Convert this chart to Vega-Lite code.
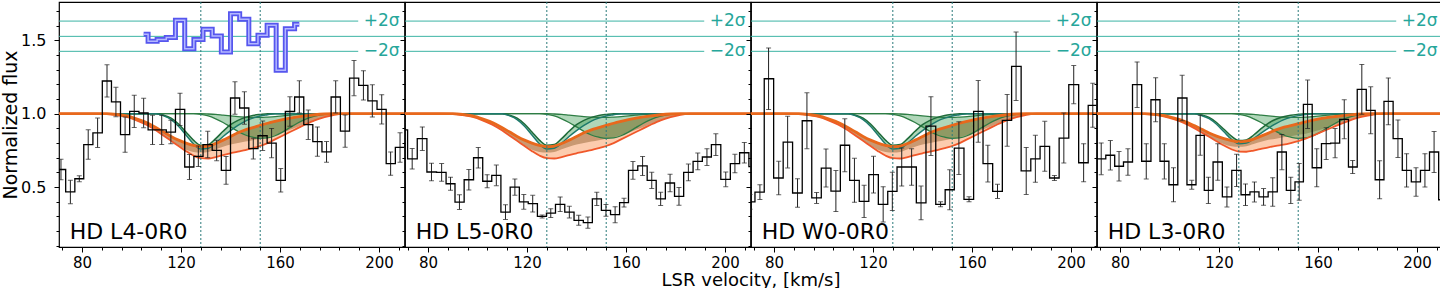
{
"$schema": "https://vega.github.io/schema/vega-lite/v6.json",
"padding": 0,
"background": "white",
"spacing": 0,
"bounds": "flush",
"config": {
  "view": {"stroke": "black", "strokeWidth": 1.2},
  "font": "DejaVu Sans",
  "axis": {"labelFont": "DejaVu Sans", "titleFont": "DejaVu Sans", "labelColor": "black", "titleColor": "black", "tickColor": "black", "domain": false, "grid": false, "titleFontWeight": "normal", "labelFontSize": 15, "titleFontSize": 18, "labelOverlap": false, "labelFlush": false}
},
"datasets": {
  "sig": [{"y": 1.631, "xa": 60, "xb": 191.6}, {"y": 1.527, "xa": 60, "xb": 215}, {"y": 1.425, "xa": 60, "xb": 191.6}],
  "sigt": [{"v": 193.8, "y": 1.631, "t": "+2σ"}, {"v": 193.8, "y": 1.425, "t": "−2σ"}],
  "vl": [{"v": 128}, {"v": 152}],
  "res": [
    {"v": 104.9, "r": 1.541}, {"v": 108.5, "r": 1.493}, {"v": 112.2, "r": 1.505}, {"v": 115.9, "r": 1.52},
    {"v": 119.6, "r": 1.636}, {"v": 123.4, "r": 1.443}, {"v": 127.0, "r": 1.506}, {"v": 130.8, "r": 1.575},
    {"v": 134.4, "r": 1.529}, {"v": 138.2, "r": 1.42}, {"v": 141.8, "r": 1.681}, {"v": 145.6, "r": 1.643},
    {"v": 149.2, "r": 1.477}, {"v": 153.0, "r": 1.534}, {"v": 156.6, "r": 1.602}, {"v": 160.3, "r": 1.296},
    {"v": 164.0, "r": 1.579}, {"v": 167.8, "r": 1.609}
  ],
  "mod": [
    {"m": "A", "v": 60, "th": 1, "tm": 1, "tl": 1, "c1h": 1, "c1l": 1, "c2h": 1, "c2l": 1},
    {"m": "A", "v": 85, "th": 1, "tm": 1, "tl": 1, "c1h": 1, "c1l": 1, "c2h": 1, "c2l": 1},
    {"m": "A", "v": 90, "th": 1, "tm": 0.998, "tl": 0.998, "c1h": 1, "c1l": 1, "c2h": 1, "c2l": 1},
    {"m": "A", "v": 94, "th": 0.995, "tm": 0.99, "tl": 0.99, "c1h": 1, "c1l": 1, "c2h": 1, "c2l": 1},
    {"m": "A", "v": 98, "th": 0.985, "tm": 0.978, "tl": 0.978, "c1h": 1, "c1l": 1, "c2h": 1, "c2l": 1},
    {"m": "A", "v": 102, "th": 0.965, "tm": 0.955, "tl": 0.955, "c1h": 1, "c1l": 1, "c2h": 1, "c2l": 1},
    {"m": "A", "v": 106, "th": 0.94, "tm": 0.925, "tl": 0.925, "c1h": 1, "c1l": 1, "c2h": 1, "c2l": 1},
    {"m": "A", "v": 110, "th": 0.905, "tm": 0.885, "tl": 0.885, "c1h": 1, "c1l": 1, "c2h": 1, "c2l": 1},
    {"m": "A", "v": 113, "th": 0.875, "tm": 0.852, "tl": 0.85, "c1h": 0.99, "c1l": 0.985, "c2h": 1, "c2l": 1},
    {"m": "A", "v": 116, "th": 0.845, "tm": 0.818, "tl": 0.815, "c1h": 0.97, "c1l": 0.96, "c2h": 1, "c2l": 1},
    {"m": "A", "v": 119, "th": 0.82, "tm": 0.785, "tl": 0.78, "c1h": 0.93, "c1l": 0.915, "c2h": 1, "c2l": 1},
    {"m": "A", "v": 122, "th": 0.8, "tm": 0.755, "tl": 0.745, "c1h": 0.875, "c1l": 0.855, "c2h": 1, "c2l": 1},
    {"m": "A", "v": 125, "th": 0.785, "tm": 0.74, "tl": 0.715, "c1h": 0.82, "c1l": 0.795, "c2h": 1, "c2l": 1},
    {"m": "A", "v": 128, "th": 0.775, "tm": 0.735, "tl": 0.697, "c1h": 0.785, "c1l": 0.76, "c2h": 1, "c2l": 0.995},
    {"m": "A", "v": 131, "th": 0.78, "tm": 0.74, "tl": 0.695, "c1h": 0.79, "c1l": 0.765, "c2h": 0.998, "c2l": 0.985},
    {"m": "A", "v": 134, "th": 0.797, "tm": 0.758, "tl": 0.705, "c1h": 0.83, "c1l": 0.8, "c2h": 0.995, "c2l": 0.965},
    {"m": "A", "v": 137, "th": 0.82, "tm": 0.775, "tl": 0.718, "c1h": 0.88, "c1l": 0.845, "c2h": 0.99, "c2l": 0.94},
    {"m": "A", "v": 140, "th": 0.845, "tm": 0.79, "tl": 0.73, "c1h": 0.925, "c1l": 0.885, "c2h": 0.985, "c2l": 0.91},
    {"m": "A", "v": 143, "th": 0.87, "tm": 0.8, "tl": 0.742, "c1h": 0.955, "c1l": 0.92, "c2h": 0.98, "c2l": 0.88},
    {"m": "A", "v": 146, "th": 0.89, "tm": 0.81, "tl": 0.752, "c1h": 0.975, "c1l": 0.95, "c2h": 0.977, "c2l": 0.855},
    {"m": "A", "v": 149, "th": 0.905, "tm": 0.82, "tl": 0.765, "c1h": 0.988, "c1l": 0.97, "c2h": 0.975, "c2l": 0.84},
    {"m": "A", "v": 152, "th": 0.92, "tm": 0.83, "tl": 0.78, "c1h": 0.995, "c1l": 0.985, "c2h": 0.975, "c2l": 0.832},
    {"m": "A", "v": 155, "th": 0.935, "tm": 0.84, "tl": 0.8, "c1h": 1, "c1l": 0.993, "c2h": 0.977, "c2l": 0.835},
    {"m": "A", "v": 158, "th": 0.948, "tm": 0.855, "tl": 0.825, "c1h": 1, "c1l": 1, "c2h": 0.98, "c2l": 0.85},
    {"m": "A", "v": 161, "th": 0.96, "tm": 0.87, "tl": 0.85, "c1h": 1, "c1l": 1, "c2h": 0.985, "c2l": 0.875},
    {"m": "A", "v": 164, "th": 0.97, "tm": 0.89, "tl": 0.875, "c1h": 1, "c1l": 1, "c2h": 0.99, "c2l": 0.905},
    {"m": "A", "v": 167, "th": 0.978, "tm": 0.91, "tl": 0.9, "c1h": 1, "c1l": 1, "c2h": 0.995, "c2l": 0.935},
    {"m": "A", "v": 170, "th": 0.985, "tm": 0.93, "tl": 0.925, "c1h": 1, "c1l": 1, "c2h": 0.998, "c2l": 0.96},
    {"m": "A", "v": 174, "th": 0.993, "tm": 0.955, "tl": 0.955, "c1h": 1, "c1l": 1, "c2h": 1, "c2l": 0.983},
    {"m": "A", "v": 178, "th": 0.998, "tm": 0.978, "tl": 0.976, "c1h": 1, "c1l": 1, "c2h": 1, "c2l": 0.996},
    {"m": "A", "v": 182, "th": 1, "tm": 0.993, "tl": 0.992, "c1h": 1, "c1l": 1, "c2h": 1, "c2l": 1},
    {"m": "A", "v": 186, "th": 1, "tm": 1, "tl": 1, "c1h": 1, "c1l": 1, "c2h": 1, "c2l": 1},
    {"m": "A", "v": 215, "th": 1, "tm": 1, "tl": 1, "c1h": 1, "c1l": 1, "c2h": 1, "c2l": 1},
    {"m": "B", "v": 60, "th": 1, "tm": 1, "tl": 1, "c1h": 1, "c1l": 1, "c2h": 1, "c2l": 1},
    {"m": "B", "v": 85, "th": 1, "tm": 1, "tl": 1, "c1h": 1, "c1l": 1, "c2h": 1, "c2l": 1},
    {"m": "B", "v": 90, "th": 1, "tm": 0.998, "tl": 0.998, "c1h": 1, "c1l": 1, "c2h": 1, "c2l": 1},
    {"m": "B", "v": 94, "th": 0.996, "tm": 0.992, "tl": 0.992, "c1h": 1, "c1l": 1, "c2h": 1, "c2l": 1},
    {"m": "B", "v": 98, "th": 0.987, "tm": 0.981, "tl": 0.981, "c1h": 1, "c1l": 1, "c2h": 1, "c2l": 1},
    {"m": "B", "v": 102, "th": 0.97, "tm": 0.962, "tl": 0.962, "c1h": 1, "c1l": 1, "c2h": 1, "c2l": 1},
    {"m": "B", "v": 106, "th": 0.949, "tm": 0.936, "tl": 0.936, "c1h": 1, "c1l": 1, "c2h": 1, "c2l": 1},
    {"m": "B", "v": 110, "th": 0.919, "tm": 0.902, "tl": 0.902, "c1h": 1, "c1l": 1, "c2h": 1, "c2l": 1},
    {"m": "B", "v": 113, "th": 0.894, "tm": 0.874, "tl": 0.872, "c1h": 0.992, "c1l": 0.987, "c2h": 1, "c2l": 1},
    {"m": "B", "v": 116, "th": 0.868, "tm": 0.845, "tl": 0.843, "c1h": 0.975, "c1l": 0.966, "c2h": 1, "c2l": 1},
    {"m": "B", "v": 119, "th": 0.847, "tm": 0.817, "tl": 0.813, "c1h": 0.94, "c1l": 0.928, "c2h": 1, "c2l": 1},
    {"m": "B", "v": 122, "th": 0.83, "tm": 0.792, "tl": 0.783, "c1h": 0.894, "c1l": 0.877, "c2h": 1, "c2l": 1},
    {"m": "B", "v": 125, "th": 0.817, "tm": 0.779, "tl": 0.758, "c1h": 0.847, "c1l": 0.826, "c2h": 1, "c2l": 1},
    {"m": "B", "v": 128, "th": 0.809, "tm": 0.775, "tl": 0.742, "c1h": 0.817, "c1l": 0.796, "c2h": 1, "c2l": 0.995},
    {"m": "B", "v": 131, "th": 0.813, "tm": 0.779, "tl": 0.741, "c1h": 0.821, "c1l": 0.8, "c2h": 0.998, "c2l": 0.985},
    {"m": "B", "v": 134, "th": 0.827, "tm": 0.794, "tl": 0.749, "c1h": 0.855, "c1l": 0.83, "c2h": 0.995, "c2l": 0.965},
    {"m": "B", "v": 137, "th": 0.847, "tm": 0.809, "tl": 0.76, "c1h": 0.898, "c1l": 0.868, "c2h": 0.99, "c2l": 0.94},
    {"m": "B", "v": 140, "th": 0.868, "tm": 0.822, "tl": 0.771, "c1h": 0.936, "c1l": 0.902, "c2h": 0.985, "c2l": 0.91},
    {"m": "B", "v": 143, "th": 0.89, "tm": 0.83, "tl": 0.781, "c1h": 0.962, "c1l": 0.932, "c2h": 0.98, "c2l": 0.88},
    {"m": "B", "v": 146, "th": 0.907, "tm": 0.839, "tl": 0.789, "c1h": 0.979, "c1l": 0.958, "c2h": 0.977, "c2l": 0.855},
    {"m": "B", "v": 149, "th": 0.919, "tm": 0.847, "tl": 0.8, "c1h": 0.99, "c1l": 0.975, "c2h": 0.975, "c2l": 0.84},
    {"m": "B", "v": 152, "th": 0.932, "tm": 0.856, "tl": 0.813, "c1h": 0.996, "c1l": 0.987, "c2h": 0.975, "c2l": 0.832},
    {"m": "B", "v": 155, "th": 0.945, "tm": 0.864, "tl": 0.83, "c1h": 1, "c1l": 0.994, "c2h": 0.977, "c2l": 0.835},
    {"m": "B", "v": 158, "th": 0.956, "tm": 0.877, "tl": 0.851, "c1h": 1, "c1l": 1, "c2h": 0.98, "c2l": 0.85},
    {"m": "B", "v": 161, "th": 0.966, "tm": 0.89, "tl": 0.873, "c1h": 1, "c1l": 1, "c2h": 0.985, "c2l": 0.875},
    {"m": "B", "v": 164, "th": 0.975, "tm": 0.907, "tl": 0.894, "c1h": 1, "c1l": 1, "c2h": 0.99, "c2l": 0.905},
    {"m": "B", "v": 167, "th": 0.981, "tm": 0.924, "tl": 0.915, "c1h": 1, "c1l": 1, "c2h": 0.995, "c2l": 0.935},
    {"m": "B", "v": 170, "th": 0.987, "tm": 0.941, "tl": 0.936, "c1h": 1, "c1l": 1, "c2h": 0.998, "c2l": 0.96},
    {"m": "B", "v": 174, "th": 0.994, "tm": 0.962, "tl": 0.962, "c1h": 1, "c1l": 1, "c2h": 1, "c2l": 0.983},
    {"m": "B", "v": 178, "th": 0.998, "tm": 0.981, "tl": 0.98, "c1h": 1, "c1l": 1, "c2h": 1, "c2l": 0.996},
    {"m": "B", "v": 182, "th": 1, "tm": 0.994, "tl": 0.993, "c1h": 1, "c1l": 1, "c2h": 1, "c2l": 1},
    {"m": "B", "v": 186, "th": 1, "tm": 1, "tl": 1, "c1h": 1, "c1l": 1, "c2h": 1, "c2l": 1},
    {"m": "B", "v": 215, "th": 1, "tm": 1, "tl": 1, "c1h": 1, "c1l": 1, "c2h": 1, "c2l": 1}
  ],
  "obs": [
    {"p": 1, "v": 67.8, "f": 0.6, "lo": 0.53, "hi": 0.67},
    {"p": 1, "v": 71.5, "f": 0.62, "lo": 0.55, "hi": 0.69},
    {"p": 1, "v": 75.3, "f": 0.467, "lo": 0.387, "hi": 0.547},
    {"p": 1, "v": 78.9, "f": 0.557, "lo": 0.537, "hi": 0.577},
    {"p": 1, "v": 82.5, "f": 0.79, "lo": 0.69, "hi": 0.89},
    {"p": 1, "v": 86.3, "f": 0.87, "lo": 0.77, "hi": 0.97},
    {"p": 1, "v": 90.1, "f": 1.223, "lo": 1.113, "hi": 1.333},
    {"p": 1, "v": 93.7, "f": 1.08, "lo": 0.98, "hi": 1.18},
    {"p": 1, "v": 97.4, "f": 0.857, "lo": 0.737, "hi": 0.977},
    {"p": 1, "v": 101.1, "f": 1.016, "lo": 0.906, "hi": 1.126},
    {"p": 1, "v": 104.9, "f": 1.005, "lo": 0.905, "hi": 1.105},
    {"p": 1, "v": 108.5, "f": 0.89, "lo": 0.79, "hi": 0.99},
    {"p": 1, "v": 112.2, "f": 0.89, "lo": 0.79, "hi": 0.99},
    {"p": 1, "v": 115.9, "f": 0.875, "lo": 0.795, "hi": 0.955},
    {"p": 1, "v": 119.6, "f": 1.03, "lo": 0.92, "hi": 1.14},
    {"p": 1, "v": 123.4, "f": 0.637, "lo": 0.552, "hi": 0.722},
    {"p": 1, "v": 127.0, "f": 0.71, "lo": 0.64, "hi": 0.78},
    {"p": 1, "v": 130.8, "f": 0.79, "lo": 0.7, "hi": 0.88},
    {"p": 1, "v": 134.4, "f": 0.75, "lo": 0.68, "hi": 0.82},
    {"p": 1, "v": 138.2, "f": 0.614, "lo": 0.519, "hi": 0.709},
    {"p": 1, "v": 141.8, "f": 1.107, "lo": 0.997, "hi": 1.217},
    {"p": 1, "v": 145.6, "f": 1.039, "lo": 0.929, "hi": 1.149},
    {"p": 1, "v": 149.2, "f": 0.762, "lo": 0.692, "hi": 0.832},
    {"p": 1, "v": 153.0, "f": 0.85, "lo": 0.75, "hi": 0.95},
    {"p": 1, "v": 156.6, "f": 0.8, "lo": 0.7, "hi": 0.9},
    {"p": 1, "v": 160.3, "f": 0.546, "lo": 0.466, "hi": 0.626},
    {"p": 1, "v": 164.0, "f": 1.015, "lo": 0.915, "hi": 1.115},
    {"p": 1, "v": 167.8, "f": 1.114, "lo": 1.004, "hi": 1.224},
    {"p": 1, "v": 171.4, "f": 0.925, "lo": 0.825, "hi": 1.025},
    {"p": 1, "v": 175.1, "f": 0.81, "lo": 0.71, "hi": 0.91},
    {"p": 1, "v": 178.8, "f": 0.74, "lo": 0.67, "hi": 0.81},
    {"p": 1, "v": 182.5, "f": 1.114, "lo": 1.004, "hi": 1.224},
    {"p": 1, "v": 186.3, "f": 0.882, "lo": 0.772, "hi": 0.992},
    {"p": 1, "v": 189.9, "f": 1.243, "lo": 1.123, "hi": 1.363},
    {"p": 1, "v": 193.7, "f": 1.193, "lo": 1.093, "hi": 1.293},
    {"p": 1, "v": 197.3, "f": 1.087, "lo": 0.977, "hi": 1.197},
    {"p": 1, "v": 201.1, "f": 1.03, "lo": 0.93, "hi": 1.13},
    {"p": 1, "v": 204.7, "f": 0.66, "lo": 0.58, "hi": 0.74},
    {"p": 1, "v": 208.5, "f": 0.77, "lo": 0.67, "hi": 0.87},
    {"p": 1, "v": 212.2, "f": 0.8, "lo": 0.7, "hi": 0.9},
    {"p": 2, "v": 69.9, "f": 0.89, "lo": 0.84, "hi": 0.94},
    {"p": 2, "v": 73.6, "f": 0.693, "lo": 0.623, "hi": 0.763},
    {"p": 2, "v": 77.7, "f": 0.83, "lo": 0.75, "hi": 0.91},
    {"p": 2, "v": 81.4, "f": 0.603, "lo": 0.543, "hi": 0.663},
    {"p": 2, "v": 85.5, "f": 0.6, "lo": 0.54, "hi": 0.66},
    {"p": 2, "v": 89.1, "f": 0.523, "lo": 0.478, "hi": 0.568},
    {"p": 2, "v": 92.7, "f": 0.398, "lo": 0.348, "hi": 0.448},
    {"p": 2, "v": 96.5, "f": 0.55, "lo": 0.48, "hi": 0.62},
    {"p": 2, "v": 100.3, "f": 0.7, "lo": 0.63, "hi": 0.77},
    {"p": 2, "v": 103.9, "f": 0.54, "lo": 0.495, "hi": 0.585},
    {"p": 2, "v": 107.6, "f": 0.58, "lo": 0.51, "hi": 0.65},
    {"p": 2, "v": 111.3, "f": 0.33, "lo": 0.28, "hi": 0.38},
    {"p": 2, "v": 115.1, "f": 0.5, "lo": 0.445, "hi": 0.555},
    {"p": 2, "v": 118.7, "f": 0.4, "lo": 0.35, "hi": 0.45},
    {"p": 2, "v": 122.3, "f": 0.387, "lo": 0.33, "hi": 0.444},
    {"p": 2, "v": 126.1, "f": 0.3, "lo": 0.29, "hi": 0.31},
    {"p": 2, "v": 129.6, "f": 0.323, "lo": 0.293, "hi": 0.353},
    {"p": 2, "v": 133.4, "f": 0.383, "lo": 0.333, "hi": 0.433},
    {"p": 2, "v": 137.1, "f": 0.33, "lo": 0.29, "hi": 0.37},
    {"p": 2, "v": 140.9, "f": 0.274, "lo": 0.24, "hi": 0.308},
    {"p": 2, "v": 144.6, "f": 0.258, "lo": 0.22, "hi": 0.296},
    {"p": 2, "v": 148.2, "f": 0.42, "lo": 0.375, "hi": 0.465},
    {"p": 2, "v": 151.9, "f": 0.342, "lo": 0.302, "hi": 0.382},
    {"p": 2, "v": 155.6, "f": 0.312, "lo": 0.257, "hi": 0.367},
    {"p": 2, "v": 159.2, "f": 0.394, "lo": 0.364, "hi": 0.424},
    {"p": 2, "v": 162.8, "f": 0.614, "lo": 0.554, "hi": 0.674},
    {"p": 2, "v": 166.7, "f": 0.644, "lo": 0.579, "hi": 0.709},
    {"p": 2, "v": 170.4, "f": 0.546, "lo": 0.491, "hi": 0.601},
    {"p": 2, "v": 174.0, "f": 0.42, "lo": 0.375, "hi": 0.465},
    {"p": 2, "v": 177.8, "f": 0.528, "lo": 0.468, "hi": 0.588},
    {"p": 2, "v": 181.4, "f": 0.437, "lo": 0.377, "hi": 0.497},
    {"p": 2, "v": 185.2, "f": 0.6, "lo": 0.543, "hi": 0.657},
    {"p": 2, "v": 189.0, "f": 0.675, "lo": 0.618, "hi": 0.732},
    {"p": 2, "v": 192.7, "f": 0.705, "lo": 0.648, "hi": 0.762},
    {"p": 2, "v": 196.3, "f": 0.789, "lo": 0.715, "hi": 0.863},
    {"p": 2, "v": 200.3, "f": 0.553, "lo": 0.503, "hi": 0.603},
    {"p": 2, "v": 204.0, "f": 0.66, "lo": 0.597, "hi": 0.723},
    {"p": 2, "v": 207.8, "f": 0.734, "lo": 0.664, "hi": 0.804},
    {"p": 2, "v": 211.5, "f": 0.64, "lo": 0.58, "hi": 0.7},
    {"p": 3, "v": 66.5, "f": 0.4, "lo": 0.35, "hi": 0.45},
    {"p": 3, "v": 70.3, "f": 0.4, "lo": 0.35, "hi": 0.45},
    {"p": 3, "v": 74.3, "f": 0.466, "lo": 0.416, "hi": 0.516},
    {"p": 3, "v": 77.8, "f": 1.238, "lo": 1.028, "hi": 1.448},
    {"p": 3, "v": 81.9, "f": 0.562, "lo": 0.448, "hi": 0.676},
    {"p": 3, "v": 85.5, "f": 0.807, "lo": 0.631, "hi": 0.983},
    {"p": 3, "v": 89.5, "f": 0.46, "lo": 0.363, "hi": 0.557},
    {"p": 3, "v": 93.3, "f": 0.952, "lo": 0.762, "hi": 1.142},
    {"p": 3, "v": 97.2, "f": 0.426, "lo": 0.389, "hi": 0.463},
    {"p": 3, "v": 101.0, "f": 0.63, "lo": 0.5, "hi": 0.76},
    {"p": 3, "v": 105.0, "f": 0.473, "lo": 0.333, "hi": 0.613},
    {"p": 3, "v": 108.6, "f": 0.785, "lo": 0.605, "hi": 0.965},
    {"p": 3, "v": 112.5, "f": 0.546, "lo": 0.396, "hi": 0.696},
    {"p": 3, "v": 116.4, "f": 0.403, "lo": 0.293, "hi": 0.513},
    {"p": 3, "v": 120.2, "f": 0.585, "lo": 0.46, "hi": 0.71},
    {"p": 3, "v": 124.1, "f": 0.383, "lo": 0.263, "hi": 0.503},
    {"p": 3, "v": 127.8, "f": 0.471, "lo": 0.341, "hi": 0.601},
    {"p": 3, "v": 131.6, "f": 0.637, "lo": 0.507, "hi": 0.767},
    {"p": 3, "v": 135.6, "f": 0.637, "lo": 0.512, "hi": 0.762},
    {"p": 3, "v": 139.4, "f": 0.392, "lo": 0.277, "hi": 0.507},
    {"p": 3, "v": 143.4, "f": 0.916, "lo": 0.716, "hi": 1.116},
    {"p": 3, "v": 147.3, "f": 0.383, "lo": 0.366, "hi": 0.4},
    {"p": 3, "v": 151.0, "f": 0.482, "lo": 0.346, "hi": 0.618},
    {"p": 3, "v": 154.7, "f": 0.766, "lo": 0.586, "hi": 0.946},
    {"p": 3, "v": 158.8, "f": 0.417, "lo": 0.4, "hi": 0.434},
    {"p": 3, "v": 162.5, "f": 1.016, "lo": 0.806, "hi": 1.226},
    {"p": 3, "v": 166.4, "f": 0.66, "lo": 0.535, "hi": 0.785},
    {"p": 3, "v": 170.3, "f": 0.471, "lo": 0.423, "hi": 0.519},
    {"p": 3, "v": 174.2, "f": 0.955, "lo": 0.779, "hi": 1.131},
    {"p": 3, "v": 177.8, "f": 1.323, "lo": 1.09, "hi": 1.556},
    {"p": 3, "v": 181.9, "f": 0.61, "lo": 0.45, "hi": 0.77},
    {"p": 3, "v": 185.6, "f": 0.693, "lo": 0.533, "hi": 0.853},
    {"p": 3, "v": 189.4, "f": 0.778, "lo": 0.608, "hi": 0.948},
    {"p": 3, "v": 193.3, "f": 0.562, "lo": 0.545, "hi": 0.579},
    {"p": 3, "v": 197.1, "f": 0.834, "lo": 0.664, "hi": 1.004},
    {"p": 3, "v": 201.1, "f": 1.198, "lo": 1.068, "hi": 1.328},
    {"p": 3, "v": 205.1, "f": 0.666, "lo": 0.536, "hi": 0.796},
    {"p": 3, "v": 208.8, "f": 1.057, "lo": 0.907, "hi": 1.207},
    {"p": 3, "v": 212.6, "f": 0.9, "lo": 0.75, "hi": 1.05},
    {"p": 4, "v": 68.7, "f": 0.7, "lo": 0.6, "hi": 0.8},
    {"p": 4, "v": 72.4, "f": 0.693, "lo": 0.585, "hi": 0.801},
    {"p": 4, "v": 76.1, "f": 0.717, "lo": 0.617, "hi": 0.817},
    {"p": 4, "v": 79.6, "f": 0.642, "lo": 0.542, "hi": 0.742},
    {"p": 4, "v": 83.2, "f": 0.671, "lo": 0.581, "hi": 0.761},
    {"p": 4, "v": 86.9, "f": 1.198, "lo": 1.043, "hi": 1.353},
    {"p": 4, "v": 90.6, "f": 0.676, "lo": 0.556, "hi": 0.796},
    {"p": 4, "v": 94.4, "f": 1.095, "lo": 0.945, "hi": 1.245},
    {"p": 4, "v": 97.9, "f": 0.676, "lo": 0.556, "hi": 0.796},
    {"p": 4, "v": 101.6, "f": 0.516, "lo": 0.4, "hi": 0.632},
    {"p": 4, "v": 105.1, "f": 1.107, "lo": 0.952, "hi": 1.262},
    {"p": 4, "v": 109.0, "f": 0.516, "lo": 0.486, "hi": 0.546},
    {"p": 4, "v": 112.4, "f": 0.853, "lo": 0.717, "hi": 0.989},
    {"p": 4, "v": 115.7, "f": 0.478, "lo": 0.388, "hi": 0.568},
    {"p": 4, "v": 119.5, "f": 0.671, "lo": 0.546, "hi": 0.796},
    {"p": 4, "v": 123.2, "f": 0.433, "lo": 0.365, "hi": 0.501},
    {"p": 4, "v": 127.1, "f": 0.614, "lo": 0.504, "hi": 0.724},
    {"p": 4, "v": 130.7, "f": 0.448, "lo": 0.374, "hi": 0.522},
    {"p": 4, "v": 134.3, "f": 0.467, "lo": 0.399, "hi": 0.535},
    {"p": 4, "v": 138.0, "f": 0.433, "lo": 0.376, "hi": 0.49},
    {"p": 4, "v": 141.7, "f": 0.467, "lo": 0.37, "hi": 0.564},
    {"p": 4, "v": 145.4, "f": 0.739, "lo": 0.619, "hi": 0.859},
    {"p": 4, "v": 149.0, "f": 0.478, "lo": 0.388, "hi": 0.568},
    {"p": 4, "v": 152.4, "f": 0.535, "lo": 0.41, "hi": 0.66},
    {"p": 4, "v": 155.8, "f": 1.064, "lo": 0.899, "hi": 1.229},
    {"p": 4, "v": 159.5, "f": 0.632, "lo": 0.502, "hi": 0.762},
    {"p": 4, "v": 163.3, "f": 0.796, "lo": 0.688, "hi": 0.904},
    {"p": 4, "v": 166.9, "f": 0.8, "lo": 0.7, "hi": 0.9},
    {"p": 4, "v": 170.6, "f": 0.962, "lo": 0.829, "hi": 1.095},
    {"p": 4, "v": 174.0, "f": 0.637, "lo": 0.592, "hi": 0.682},
    {"p": 4, "v": 177.7, "f": 1.166, "lo": 0.996, "hi": 1.336},
    {"p": 4, "v": 181.3, "f": 1.023, "lo": 0.863, "hi": 1.183},
    {"p": 4, "v": 184.9, "f": 0.55, "lo": 0.42, "hi": 0.68},
    {"p": 4, "v": 188.4, "f": 1.084, "lo": 0.924, "hi": 1.244},
    {"p": 4, "v": 192.3, "f": 0.83, "lo": 0.702, "hi": 0.958},
    {"p": 4, "v": 195.8, "f": 0.614, "lo": 0.5, "hi": 0.728},
    {"p": 4, "v": 199.6, "f": 0.535, "lo": 0.438, "hi": 0.632},
    {"p": 4, "v": 203.2, "f": 0.614, "lo": 0.5, "hi": 0.728},
    {"p": 4, "v": 206.9, "f": 0.739, "lo": 0.599, "hi": 0.879},
    {"p": 4, "v": 210.6, "f": 0.414, "lo": 0.314, "hi": 0.514}
  ]
},
"hconcat": [
  {
    "width": 345.5, "height": 245,
    "resolve": {"axis": {"x": "independent", "y": "independent"}},
    "layer": [
      {"layer": [
      {"data": {"name": "sig"}, "mark": {"type": "rule", "color": "#3cb4a4", "strokeWidth": 1, "clip": true},
       "encoding": {
         "x": {"field": "xa", "type": "quantitative", "scale": {"domain": [70.7, 210.3]},
               "axis": {"orient": "bottom", "values": [80, 120, 160, 200], "tickSize": 5, "labelPadding": 3, "title": null}},
         "x2": {"field": "xb"},
         "y": {"field": "y", "type": "quantitative", "scale": {"domain": [0.092, 1.761]},
               "axis": {"orient": "left", "values": [0.5, 1, 1.5], "format": ".1f", "labelFontSize": 16, "tickSize": 5, "labelPadding": 8, "minExtent": 35, "maxExtent": 35, "title": "Normalized flux", "titleFontSize": 19, "titlePadding": 4}}
       }},
      {"data": {"name": "sigt"}, "mark": {"type": "text", "align": "left", "baseline": "middle", "fontSize": 17, "color": "#26a69a"},
       "encoding": {"x": {"field": "v", "type": "quantitative", "scale": {"domain": [70.7, 210.3]}}, "y": {"field": "y", "type": "quantitative", "scale": {"domain": [0.092, 1.761]}}, "text": {"field": "t"}}},
      {"data": {"name": "mod"}, "transform": [{"filter": "datum.m === 'A'"}], "mark": {"type": "area", "interpolate": "monotone", "color": "#f9a26c", "opacity": 0.55, "clip": true},
       "encoding": {"x": {"field": "v", "type": "quantitative", "scale": {"domain": [70.7, 210.3]}}, "y": {"field": "tl", "type": "quantitative", "scale": {"domain": [0.092, 1.761]}}, "y2": {"field": "th"}}},
      {"data": {"name": "mod"}, "transform": [{"filter": "datum.m === 'A'"}], "mark": {"type": "area", "interpolate": "monotone", "color": "#8b5a2b", "opacity": 0.45, "clip": true},
       "encoding": {"x": {"field": "v", "type": "quantitative", "scale": {"domain": [70.7, 210.3]}}, "y": {"field": "tm", "type": "quantitative", "scale": {"domain": [0.092, 1.761]}}, "y2": {"field": "th"}}},
      {"data": {"name": "mod"}, "transform": [{"filter": "datum.m === 'A'"}], "mark": {"type": "area", "interpolate": "monotone", "color": "#3a9a50", "opacity": 0.4, "clip": true},
       "encoding": {"x": {"field": "v", "type": "quantitative", "scale": {"domain": [70.7, 210.3]}}, "y": {"field": "c1l", "type": "quantitative", "scale": {"domain": [0.092, 1.761]}}, "y2": {"field": "c1h"}}},
      {"data": {"name": "mod"}, "transform": [{"filter": "datum.m === 'A'"}], "mark": {"type": "area", "interpolate": "monotone", "color": "#3a9a50", "opacity": 0.4, "clip": true},
       "encoding": {"x": {"field": "v", "type": "quantitative", "scale": {"domain": [70.7, 210.3]}}, "y": {"field": "c2l", "type": "quantitative", "scale": {"domain": [0.092, 1.761]}}, "y2": {"field": "c2h"}}},
      {"data": {"name": "mod"}, "transform": [{"filter": "datum.m === 'A'"}], "mark": {"type": "line", "interpolate": "monotone", "color": "#2e7d44", "strokeWidth": 1.3, "clip": true},
       "encoding": {"x": {"field": "v", "type": "quantitative", "scale": {"domain": [70.7, 210.3]}}, "y": {"field": "c2h", "type": "quantitative", "scale": {"domain": [0.092, 1.761]}}}},
      {"data": {"name": "mod"}, "transform": [{"filter": "datum.m === 'A'"}], "mark": {"type": "line", "interpolate": "monotone", "color": "#2e7d44", "strokeWidth": 1.3, "clip": true},
       "encoding": {"x": {"field": "v", "type": "quantitative", "scale": {"domain": [70.7, 210.3]}}, "y": {"field": "c2l", "type": "quantitative", "scale": {"domain": [0.092, 1.761]}}}},
      {"data": {"name": "mod"}, "transform": [{"filter": "datum.m === 'A'"}], "mark": {"type": "line", "interpolate": "monotone", "color": "#1f6b3a", "strokeWidth": 1.5, "clip": true},
       "encoding": {"x": {"field": "v", "type": "quantitative", "scale": {"domain": [70.7, 210.3]}}, "y": {"field": "c1h", "type": "quantitative", "scale": {"domain": [0.092, 1.761]}}}},
      {"data": {"name": "mod"}, "transform": [{"filter": "datum.m === 'A'"}], "mark": {"type": "line", "interpolate": "monotone", "color": "#1d7a6c", "strokeWidth": 1.5, "clip": true},
       "encoding": {"x": {"field": "v", "type": "quantitative", "scale": {"domain": [70.7, 210.3]}}, "y": {"field": "c1l", "type": "quantitative", "scale": {"domain": [0.092, 1.761]}}}},
      {"data": {"name": "mod"}, "transform": [{"filter": "datum.m === 'A'"}], "mark": {"type": "line", "interpolate": "monotone", "color": "#f0582a", "strokeWidth": 1.8, "clip": true},
       "encoding": {"x": {"field": "v", "type": "quantitative", "scale": {"domain": [70.7, 210.3]}}, "y": {"field": "tl", "type": "quantitative", "scale": {"domain": [0.092, 1.761]}}}},
      {"data": {"name": "mod"}, "transform": [{"filter": "datum.m === 'A'"}], "mark": {"type": "line", "interpolate": "monotone", "color": "#e8681c", "strokeWidth": 2.8, "clip": true},
       "encoding": {"x": {"field": "v", "type": "quantitative", "scale": {"domain": [70.7, 210.3]}}, "y": {"field": "th", "type": "quantitative", "scale": {"domain": [0.092, 1.761]}}}},
      {"data": {"name": "vl"}, "mark": {"type": "rule", "color": "#2a7a7a", "strokeWidth": 1, "strokeDash": [2, 2]},
       "encoding": {"x": {"field": "v", "type": "quantitative", "scale": {"domain": [70.7, 210.3]}}}},
      {"data": {"name": "res"}, "mark": {"type": "line", "interpolate": "step", "color": "#5656ee", "strokeWidth": 5, "clip": true},
       "encoding": {"x": {"field": "v", "type": "quantitative", "scale": {"domain": [70.7, 210.3]}}, "y": {"field": "r", "type": "quantitative", "scale": {"domain": [0.092, 1.761]}}}},
      {"data": {"name": "res"}, "mark": {"type": "line", "interpolate": "step", "color": "#b4b8ff", "strokeWidth": 1.5, "clip": true},
       "encoding": {"x": {"field": "v", "type": "quantitative", "scale": {"domain": [70.7, 210.3]}}, "y": {"field": "r", "type": "quantitative", "scale": {"domain": [0.092, 1.761]}}}},
      {"data": {"name": "obs"}, "transform": [{"filter": "datum.p === 1"}], "mark": {"type": "rule", "color": "#222222", "strokeWidth": 1, "clip": true},
       "encoding": {"x": {"field": "v", "type": "quantitative", "scale": {"domain": [70.7, 210.3]}}, "y": {"field": "lo", "type": "quantitative", "scale": {"domain": [0.092, 1.761]}}, "y2": {"field": "hi"}}},
      {"data": {"name": "obs"}, "transform": [{"filter": "datum.p === 1"}, {"fold": ["lo", "hi"], "as": ["ck", "cv"]}], "mark": {"type": "tick", "orient": "horizontal", "size": 5, "thickness": 1, "color": "#222222", "clip": true},
       "encoding": {"x": {"field": "v", "type": "quantitative", "scale": {"domain": [70.7, 210.3]}}, "y": {"field": "cv", "type": "quantitative", "scale": {"domain": [0.092, 1.761]}}}},
      {"data": {"name": "obs"}, "transform": [{"filter": "datum.p === 1"}], "mark": {"type": "line", "interpolate": "step", "color": "black", "strokeWidth": 1.3, "clip": true},
       "encoding": {"x": {"field": "v", "type": "quantitative", "scale": {"domain": [70.7, 210.3]}}, "y": {"field": "f", "type": "quantitative", "scale": {"domain": [0.092, 1.761]}}}},
      {"data": {"values": [{"t": "HD L4-0R0"}]}, "mark": {"type": "text", "align": "left", "baseline": "alphabetic", "fontSize": 22, "color": "black"},
       "encoding": {"x": {"datum": 75, "type": "quantitative", "scale": {"domain": [70.7, 210.3]}}, "y": {"datum": 0.146, "type": "quantitative", "scale": {"domain": [0.092, 1.761]}}, "text": {"field": "t"}}}
      ]},
      {"data": {"name": "vl"}, "mark": {"type": "point", "opacity": 0},
       "encoding": {
         "x": {"field": "v", "type": "quantitative", "scale": {"domain": [70.7, 210.3]}, "axis": {"orient": "bottom", "values": [72, 88, 96, 104, 112, 128, 136, 144, 152, 168, 176, 184, 192, 208], "labels": false, "tickSize": 3, "title": null}},
         "y": {"datum": 1, "type": "quantitative", "scale": {"domain": [0.092, 1.761]}, "axis": {"orient": "left", "values": [0.1, 0.2, 0.3, 0.4, 0.6, 0.7, 0.8, 0.9, 1.1, 1.2, 1.3, 1.4, 1.6, 1.7], "labels": false, "tickSize": 3, "title": null}}
       }}
    ]
  },
  {
    "width": 345.5, "height": 245,
    "resolve": {"axis": {"x": "independent", "y": "independent"}},
    "layer": [
      {"layer": [
      {"data": {"name": "sig"}, "mark": {"type": "rule", "color": "#3cb4a4", "strokeWidth": 1, "clip": true},
       "encoding": {
         "x": {"field": "xa", "type": "quantitative", "scale": {"domain": [70.7, 210.3]},
               "axis": {"orient": "bottom", "values": [80, 120, 160, 200], "tickSize": 5, "labelPadding": 3, "title": "LSR velocity, [km/s]", "titleX": 345.5, "titleY": 24, "titleAlign": "center", "titleBaseline": "top"}},
         "x2": {"field": "xb"},
         "y": {"field": "y", "type": "quantitative", "scale": {"domain": [0.092, 1.761]},
               "axis": {"orient": "left", "values": [0.5, 1, 1.5], "labels": false, "tickSize": 5, "title": null}}
       }},
      {"data": {"name": "sigt"}, "mark": {"type": "text", "align": "left", "baseline": "middle", "fontSize": 17, "color": "#26a69a"},
       "encoding": {"x": {"field": "v", "type": "quantitative", "scale": {"domain": [70.7, 210.3]}}, "y": {"field": "y", "type": "quantitative", "scale": {"domain": [0.092, 1.761]}}, "text": {"field": "t"}}},
      {"data": {"name": "mod"}, "transform": [{"filter": "datum.m === 'A'"}], "mark": {"type": "area", "interpolate": "monotone", "color": "#f9a26c", "opacity": 0.55, "clip": true},
       "encoding": {"x": {"field": "v", "type": "quantitative", "scale": {"domain": [70.7, 210.3]}}, "y": {"field": "tl", "type": "quantitative", "scale": {"domain": [0.092, 1.761]}}, "y2": {"field": "th"}}},
      {"data": {"name": "mod"}, "transform": [{"filter": "datum.m === 'A'"}], "mark": {"type": "area", "interpolate": "monotone", "color": "#8b5a2b", "opacity": 0.45, "clip": true},
       "encoding": {"x": {"field": "v", "type": "quantitative", "scale": {"domain": [70.7, 210.3]}}, "y": {"field": "tm", "type": "quantitative", "scale": {"domain": [0.092, 1.761]}}, "y2": {"field": "th"}}},
      {"data": {"name": "mod"}, "transform": [{"filter": "datum.m === 'A'"}], "mark": {"type": "area", "interpolate": "monotone", "color": "#3a9a50", "opacity": 0.4, "clip": true},
       "encoding": {"x": {"field": "v", "type": "quantitative", "scale": {"domain": [70.7, 210.3]}}, "y": {"field": "c1l", "type": "quantitative", "scale": {"domain": [0.092, 1.761]}}, "y2": {"field": "c1h"}}},
      {"data": {"name": "mod"}, "transform": [{"filter": "datum.m === 'A'"}], "mark": {"type": "area", "interpolate": "monotone", "color": "#3a9a50", "opacity": 0.4, "clip": true},
       "encoding": {"x": {"field": "v", "type": "quantitative", "scale": {"domain": [70.7, 210.3]}}, "y": {"field": "c2l", "type": "quantitative", "scale": {"domain": [0.092, 1.761]}}, "y2": {"field": "c2h"}}},
      {"data": {"name": "mod"}, "transform": [{"filter": "datum.m === 'A'"}], "mark": {"type": "line", "interpolate": "monotone", "color": "#2e7d44", "strokeWidth": 1.3, "clip": true},
       "encoding": {"x": {"field": "v", "type": "quantitative", "scale": {"domain": [70.7, 210.3]}}, "y": {"field": "c2h", "type": "quantitative", "scale": {"domain": [0.092, 1.761]}}}},
      {"data": {"name": "mod"}, "transform": [{"filter": "datum.m === 'A'"}], "mark": {"type": "line", "interpolate": "monotone", "color": "#2e7d44", "strokeWidth": 1.3, "clip": true},
       "encoding": {"x": {"field": "v", "type": "quantitative", "scale": {"domain": [70.7, 210.3]}}, "y": {"field": "c2l", "type": "quantitative", "scale": {"domain": [0.092, 1.761]}}}},
      {"data": {"name": "mod"}, "transform": [{"filter": "datum.m === 'A'"}], "mark": {"type": "line", "interpolate": "monotone", "color": "#1f6b3a", "strokeWidth": 1.5, "clip": true},
       "encoding": {"x": {"field": "v", "type": "quantitative", "scale": {"domain": [70.7, 210.3]}}, "y": {"field": "c1h", "type": "quantitative", "scale": {"domain": [0.092, 1.761]}}}},
      {"data": {"name": "mod"}, "transform": [{"filter": "datum.m === 'A'"}], "mark": {"type": "line", "interpolate": "monotone", "color": "#1d7a6c", "strokeWidth": 1.5, "clip": true},
       "encoding": {"x": {"field": "v", "type": "quantitative", "scale": {"domain": [70.7, 210.3]}}, "y": {"field": "c1l", "type": "quantitative", "scale": {"domain": [0.092, 1.761]}}}},
      {"data": {"name": "mod"}, "transform": [{"filter": "datum.m === 'A'"}], "mark": {"type": "line", "interpolate": "monotone", "color": "#f0582a", "strokeWidth": 1.8, "clip": true},
       "encoding": {"x": {"field": "v", "type": "quantitative", "scale": {"domain": [70.7, 210.3]}}, "y": {"field": "tl", "type": "quantitative", "scale": {"domain": [0.092, 1.761]}}}},
      {"data": {"name": "mod"}, "transform": [{"filter": "datum.m === 'A'"}], "mark": {"type": "line", "interpolate": "monotone", "color": "#e8681c", "strokeWidth": 2.8, "clip": true},
       "encoding": {"x": {"field": "v", "type": "quantitative", "scale": {"domain": [70.7, 210.3]}}, "y": {"field": "th", "type": "quantitative", "scale": {"domain": [0.092, 1.761]}}}},
      {"data": {"name": "vl"}, "mark": {"type": "rule", "color": "#2a7a7a", "strokeWidth": 1, "strokeDash": [2, 2]},
       "encoding": {"x": {"field": "v", "type": "quantitative", "scale": {"domain": [70.7, 210.3]}}}},
      {"data": {"name": "obs"}, "transform": [{"filter": "datum.p === 2"}], "mark": {"type": "rule", "color": "#222222", "strokeWidth": 1, "clip": true},
       "encoding": {"x": {"field": "v", "type": "quantitative", "scale": {"domain": [70.7, 210.3]}}, "y": {"field": "lo", "type": "quantitative", "scale": {"domain": [0.092, 1.761]}}, "y2": {"field": "hi"}}},
      {"data": {"name": "obs"}, "transform": [{"filter": "datum.p === 2"}, {"fold": ["lo", "hi"], "as": ["ck", "cv"]}], "mark": {"type": "tick", "orient": "horizontal", "size": 5, "thickness": 1, "color": "#222222", "clip": true},
       "encoding": {"x": {"field": "v", "type": "quantitative", "scale": {"domain": [70.7, 210.3]}}, "y": {"field": "cv", "type": "quantitative", "scale": {"domain": [0.092, 1.761]}}}},
      {"data": {"name": "obs"}, "transform": [{"filter": "datum.p === 2"}], "mark": {"type": "line", "interpolate": "step", "color": "black", "strokeWidth": 1.3, "clip": true},
       "encoding": {"x": {"field": "v", "type": "quantitative", "scale": {"domain": [70.7, 210.3]}}, "y": {"field": "f", "type": "quantitative", "scale": {"domain": [0.092, 1.761]}}}},
      {"data": {"values": [{"t": "HD L5-0R0"}]}, "mark": {"type": "text", "align": "left", "baseline": "alphabetic", "fontSize": 22, "color": "black"},
       "encoding": {"x": {"datum": 75, "type": "quantitative", "scale": {"domain": [70.7, 210.3]}}, "y": {"datum": 0.146, "type": "quantitative", "scale": {"domain": [0.092, 1.761]}}, "text": {"field": "t"}}}
      ]},
      {"data": {"name": "vl"}, "mark": {"type": "point", "opacity": 0},
       "encoding": {
         "x": {"field": "v", "type": "quantitative", "scale": {"domain": [70.7, 210.3]}, "axis": {"orient": "bottom", "values": [72, 88, 96, 104, 112, 128, 136, 144, 152, 168, 176, 184, 192, 208], "labels": false, "tickSize": 3, "title": null}},
         "y": {"datum": 1, "type": "quantitative", "scale": {"domain": [0.092, 1.761]}, "axis": {"orient": "left", "values": [0.1, 0.2, 0.3, 0.4, 0.6, 0.7, 0.8, 0.9, 1.1, 1.2, 1.3, 1.4, 1.6, 1.7], "labels": false, "tickSize": 3, "title": null}}
       }}
    ]
  },
  {
    "width": 345.5, "height": 245,
    "resolve": {"axis": {"x": "independent", "y": "independent"}},
    "layer": [
      {"layer": [
      {"data": {"name": "sig"}, "mark": {"type": "rule", "color": "#3cb4a4", "strokeWidth": 1, "clip": true},
       "encoding": {
         "x": {"field": "xa", "type": "quantitative", "scale": {"domain": [70.7, 210.3]},
               "axis": {"orient": "bottom", "values": [80, 120, 160, 200], "tickSize": 5, "labelPadding": 3, "title": null}},
         "x2": {"field": "xb"},
         "y": {"field": "y", "type": "quantitative", "scale": {"domain": [0.092, 1.761]},
               "axis": {"orient": "left", "values": [0.5, 1, 1.5], "labels": false, "tickSize": 5, "title": null}}
       }},
      {"data": {"name": "sigt"}, "mark": {"type": "text", "align": "left", "baseline": "middle", "fontSize": 17, "color": "#26a69a"},
       "encoding": {"x": {"field": "v", "type": "quantitative", "scale": {"domain": [70.7, 210.3]}}, "y": {"field": "y", "type": "quantitative", "scale": {"domain": [0.092, 1.761]}}, "text": {"field": "t"}}},
      {"data": {"name": "mod"}, "transform": [{"filter": "datum.m === 'A'"}], "mark": {"type": "area", "interpolate": "monotone", "color": "#f9a26c", "opacity": 0.55, "clip": true},
       "encoding": {"x": {"field": "v", "type": "quantitative", "scale": {"domain": [70.7, 210.3]}}, "y": {"field": "tl", "type": "quantitative", "scale": {"domain": [0.092, 1.761]}}, "y2": {"field": "th"}}},
      {"data": {"name": "mod"}, "transform": [{"filter": "datum.m === 'A'"}], "mark": {"type": "area", "interpolate": "monotone", "color": "#8b5a2b", "opacity": 0.45, "clip": true},
       "encoding": {"x": {"field": "v", "type": "quantitative", "scale": {"domain": [70.7, 210.3]}}, "y": {"field": "tm", "type": "quantitative", "scale": {"domain": [0.092, 1.761]}}, "y2": {"field": "th"}}},
      {"data": {"name": "mod"}, "transform": [{"filter": "datum.m === 'A'"}], "mark": {"type": "area", "interpolate": "monotone", "color": "#3a9a50", "opacity": 0.4, "clip": true},
       "encoding": {"x": {"field": "v", "type": "quantitative", "scale": {"domain": [70.7, 210.3]}}, "y": {"field": "c1l", "type": "quantitative", "scale": {"domain": [0.092, 1.761]}}, "y2": {"field": "c1h"}}},
      {"data": {"name": "mod"}, "transform": [{"filter": "datum.m === 'A'"}], "mark": {"type": "area", "interpolate": "monotone", "color": "#3a9a50", "opacity": 0.4, "clip": true},
       "encoding": {"x": {"field": "v", "type": "quantitative", "scale": {"domain": [70.7, 210.3]}}, "y": {"field": "c2l", "type": "quantitative", "scale": {"domain": [0.092, 1.761]}}, "y2": {"field": "c2h"}}},
      {"data": {"name": "mod"}, "transform": [{"filter": "datum.m === 'A'"}], "mark": {"type": "line", "interpolate": "monotone", "color": "#2e7d44", "strokeWidth": 1.3, "clip": true},
       "encoding": {"x": {"field": "v", "type": "quantitative", "scale": {"domain": [70.7, 210.3]}}, "y": {"field": "c2h", "type": "quantitative", "scale": {"domain": [0.092, 1.761]}}}},
      {"data": {"name": "mod"}, "transform": [{"filter": "datum.m === 'A'"}], "mark": {"type": "line", "interpolate": "monotone", "color": "#2e7d44", "strokeWidth": 1.3, "clip": true},
       "encoding": {"x": {"field": "v", "type": "quantitative", "scale": {"domain": [70.7, 210.3]}}, "y": {"field": "c2l", "type": "quantitative", "scale": {"domain": [0.092, 1.761]}}}},
      {"data": {"name": "mod"}, "transform": [{"filter": "datum.m === 'A'"}], "mark": {"type": "line", "interpolate": "monotone", "color": "#1f6b3a", "strokeWidth": 1.5, "clip": true},
       "encoding": {"x": {"field": "v", "type": "quantitative", "scale": {"domain": [70.7, 210.3]}}, "y": {"field": "c1h", "type": "quantitative", "scale": {"domain": [0.092, 1.761]}}}},
      {"data": {"name": "mod"}, "transform": [{"filter": "datum.m === 'A'"}], "mark": {"type": "line", "interpolate": "monotone", "color": "#1d7a6c", "strokeWidth": 1.5, "clip": true},
       "encoding": {"x": {"field": "v", "type": "quantitative", "scale": {"domain": [70.7, 210.3]}}, "y": {"field": "c1l", "type": "quantitative", "scale": {"domain": [0.092, 1.761]}}}},
      {"data": {"name": "mod"}, "transform": [{"filter": "datum.m === 'A'"}], "mark": {"type": "line", "interpolate": "monotone", "color": "#f0582a", "strokeWidth": 1.8, "clip": true},
       "encoding": {"x": {"field": "v", "type": "quantitative", "scale": {"domain": [70.7, 210.3]}}, "y": {"field": "tl", "type": "quantitative", "scale": {"domain": [0.092, 1.761]}}}},
      {"data": {"name": "mod"}, "transform": [{"filter": "datum.m === 'A'"}], "mark": {"type": "line", "interpolate": "monotone", "color": "#e8681c", "strokeWidth": 2.8, "clip": true},
       "encoding": {"x": {"field": "v", "type": "quantitative", "scale": {"domain": [70.7, 210.3]}}, "y": {"field": "th", "type": "quantitative", "scale": {"domain": [0.092, 1.761]}}}},
      {"data": {"name": "vl"}, "mark": {"type": "rule", "color": "#2a7a7a", "strokeWidth": 1, "strokeDash": [2, 2]},
       "encoding": {"x": {"field": "v", "type": "quantitative", "scale": {"domain": [70.7, 210.3]}}}},
      {"data": {"name": "obs"}, "transform": [{"filter": "datum.p === 3"}], "mark": {"type": "rule", "color": "#222222", "strokeWidth": 1, "clip": true},
       "encoding": {"x": {"field": "v", "type": "quantitative", "scale": {"domain": [70.7, 210.3]}}, "y": {"field": "lo", "type": "quantitative", "scale": {"domain": [0.092, 1.761]}}, "y2": {"field": "hi"}}},
      {"data": {"name": "obs"}, "transform": [{"filter": "datum.p === 3"}, {"fold": ["lo", "hi"], "as": ["ck", "cv"]}], "mark": {"type": "tick", "orient": "horizontal", "size": 5, "thickness": 1, "color": "#222222", "clip": true},
       "encoding": {"x": {"field": "v", "type": "quantitative", "scale": {"domain": [70.7, 210.3]}}, "y": {"field": "cv", "type": "quantitative", "scale": {"domain": [0.092, 1.761]}}}},
      {"data": {"name": "obs"}, "transform": [{"filter": "datum.p === 3"}], "mark": {"type": "line", "interpolate": "step", "color": "black", "strokeWidth": 1.3, "clip": true},
       "encoding": {"x": {"field": "v", "type": "quantitative", "scale": {"domain": [70.7, 210.3]}}, "y": {"field": "f", "type": "quantitative", "scale": {"domain": [0.092, 1.761]}}}},
      {"data": {"values": [{"t": "HD W0-0R0"}]}, "mark": {"type": "text", "align": "left", "baseline": "alphabetic", "fontSize": 22, "color": "black"},
       "encoding": {"x": {"datum": 75, "type": "quantitative", "scale": {"domain": [70.7, 210.3]}}, "y": {"datum": 0.146, "type": "quantitative", "scale": {"domain": [0.092, 1.761]}}, "text": {"field": "t"}}}
      ]},
      {"data": {"name": "vl"}, "mark": {"type": "point", "opacity": 0},
       "encoding": {
         "x": {"field": "v", "type": "quantitative", "scale": {"domain": [70.7, 210.3]}, "axis": {"orient": "bottom", "values": [72, 88, 96, 104, 112, 128, 136, 144, 152, 168, 176, 184, 192, 208], "labels": false, "tickSize": 3, "title": null}},
         "y": {"datum": 1, "type": "quantitative", "scale": {"domain": [0.092, 1.761]}, "axis": {"orient": "left", "values": [0.1, 0.2, 0.3, 0.4, 0.6, 0.7, 0.8, 0.9, 1.1, 1.2, 1.3, 1.4, 1.6, 1.7], "labels": false, "tickSize": 3, "title": null}}
       }}
    ]
  },
  {
    "width": 345.5, "height": 245,
    "resolve": {"axis": {"x": "independent", "y": "independent"}},
    "layer": [
      {"layer": [
      {"data": {"name": "sig"}, "mark": {"type": "rule", "color": "#3cb4a4", "strokeWidth": 1, "clip": true},
       "encoding": {
         "x": {"field": "xa", "type": "quantitative", "scale": {"domain": [70.7, 210.3]},
               "axis": {"orient": "bottom", "values": [80, 120, 160, 200], "tickSize": 5, "labelPadding": 3, "title": null}},
         "x2": {"field": "xb"},
         "y": {"field": "y", "type": "quantitative", "scale": {"domain": [0.092, 1.761]},
               "axis": {"orient": "left", "values": [0.5, 1, 1.5], "labels": false, "tickSize": 5, "title": null}}
       }},
      {"data": {"name": "sigt"}, "mark": {"type": "text", "align": "left", "baseline": "middle", "fontSize": 17, "color": "#26a69a"},
       "encoding": {"x": {"field": "v", "type": "quantitative", "scale": {"domain": [70.7, 210.3]}}, "y": {"field": "y", "type": "quantitative", "scale": {"domain": [0.092, 1.761]}}, "text": {"field": "t"}}},
      {"data": {"name": "mod"}, "transform": [{"filter": "datum.m === 'B'"}], "mark": {"type": "area", "interpolate": "monotone", "color": "#f9a26c", "opacity": 0.55, "clip": true},
       "encoding": {"x": {"field": "v", "type": "quantitative", "scale": {"domain": [70.7, 210.3]}}, "y": {"field": "tl", "type": "quantitative", "scale": {"domain": [0.092, 1.761]}}, "y2": {"field": "th"}}},
      {"data": {"name": "mod"}, "transform": [{"filter": "datum.m === 'B'"}], "mark": {"type": "area", "interpolate": "monotone", "color": "#8b5a2b", "opacity": 0.45, "clip": true},
       "encoding": {"x": {"field": "v", "type": "quantitative", "scale": {"domain": [70.7, 210.3]}}, "y": {"field": "tm", "type": "quantitative", "scale": {"domain": [0.092, 1.761]}}, "y2": {"field": "th"}}},
      {"data": {"name": "mod"}, "transform": [{"filter": "datum.m === 'B'"}], "mark": {"type": "area", "interpolate": "monotone", "color": "#3a9a50", "opacity": 0.4, "clip": true},
       "encoding": {"x": {"field": "v", "type": "quantitative", "scale": {"domain": [70.7, 210.3]}}, "y": {"field": "c1l", "type": "quantitative", "scale": {"domain": [0.092, 1.761]}}, "y2": {"field": "c1h"}}},
      {"data": {"name": "mod"}, "transform": [{"filter": "datum.m === 'B'"}], "mark": {"type": "area", "interpolate": "monotone", "color": "#3a9a50", "opacity": 0.4, "clip": true},
       "encoding": {"x": {"field": "v", "type": "quantitative", "scale": {"domain": [70.7, 210.3]}}, "y": {"field": "c2l", "type": "quantitative", "scale": {"domain": [0.092, 1.761]}}, "y2": {"field": "c2h"}}},
      {"data": {"name": "mod"}, "transform": [{"filter": "datum.m === 'B'"}], "mark": {"type": "line", "interpolate": "monotone", "color": "#2e7d44", "strokeWidth": 1.3, "clip": true},
       "encoding": {"x": {"field": "v", "type": "quantitative", "scale": {"domain": [70.7, 210.3]}}, "y": {"field": "c2h", "type": "quantitative", "scale": {"domain": [0.092, 1.761]}}}},
      {"data": {"name": "mod"}, "transform": [{"filter": "datum.m === 'B'"}], "mark": {"type": "line", "interpolate": "monotone", "color": "#2e7d44", "strokeWidth": 1.3, "clip": true},
       "encoding": {"x": {"field": "v", "type": "quantitative", "scale": {"domain": [70.7, 210.3]}}, "y": {"field": "c2l", "type": "quantitative", "scale": {"domain": [0.092, 1.761]}}}},
      {"data": {"name": "mod"}, "transform": [{"filter": "datum.m === 'B'"}], "mark": {"type": "line", "interpolate": "monotone", "color": "#1f6b3a", "strokeWidth": 1.5, "clip": true},
       "encoding": {"x": {"field": "v", "type": "quantitative", "scale": {"domain": [70.7, 210.3]}}, "y": {"field": "c1h", "type": "quantitative", "scale": {"domain": [0.092, 1.761]}}}},
      {"data": {"name": "mod"}, "transform": [{"filter": "datum.m === 'B'"}], "mark": {"type": "line", "interpolate": "monotone", "color": "#1d7a6c", "strokeWidth": 1.5, "clip": true},
       "encoding": {"x": {"field": "v", "type": "quantitative", "scale": {"domain": [70.7, 210.3]}}, "y": {"field": "c1l", "type": "quantitative", "scale": {"domain": [0.092, 1.761]}}}},
      {"data": {"name": "mod"}, "transform": [{"filter": "datum.m === 'B'"}], "mark": {"type": "line", "interpolate": "monotone", "color": "#f0582a", "strokeWidth": 1.8, "clip": true},
       "encoding": {"x": {"field": "v", "type": "quantitative", "scale": {"domain": [70.7, 210.3]}}, "y": {"field": "tl", "type": "quantitative", "scale": {"domain": [0.092, 1.761]}}}},
      {"data": {"name": "mod"}, "transform": [{"filter": "datum.m === 'B'"}], "mark": {"type": "line", "interpolate": "monotone", "color": "#e8681c", "strokeWidth": 2.8, "clip": true},
       "encoding": {"x": {"field": "v", "type": "quantitative", "scale": {"domain": [70.7, 210.3]}}, "y": {"field": "th", "type": "quantitative", "scale": {"domain": [0.092, 1.761]}}}},
      {"data": {"name": "vl"}, "mark": {"type": "rule", "color": "#2a7a7a", "strokeWidth": 1, "strokeDash": [2, 2]},
       "encoding": {"x": {"field": "v", "type": "quantitative", "scale": {"domain": [70.7, 210.3]}}}},
      {"data": {"name": "obs"}, "transform": [{"filter": "datum.p === 4"}], "mark": {"type": "rule", "color": "#222222", "strokeWidth": 1, "clip": true},
       "encoding": {"x": {"field": "v", "type": "quantitative", "scale": {"domain": [70.7, 210.3]}}, "y": {"field": "lo", "type": "quantitative", "scale": {"domain": [0.092, 1.761]}}, "y2": {"field": "hi"}}},
      {"data": {"name": "obs"}, "transform": [{"filter": "datum.p === 4"}, {"fold": ["lo", "hi"], "as": ["ck", "cv"]}], "mark": {"type": "tick", "orient": "horizontal", "size": 5, "thickness": 1, "color": "#222222", "clip": true},
       "encoding": {"x": {"field": "v", "type": "quantitative", "scale": {"domain": [70.7, 210.3]}}, "y": {"field": "cv", "type": "quantitative", "scale": {"domain": [0.092, 1.761]}}}},
      {"data": {"name": "obs"}, "transform": [{"filter": "datum.p === 4"}], "mark": {"type": "line", "interpolate": "step", "color": "black", "strokeWidth": 1.3, "clip": true},
       "encoding": {"x": {"field": "v", "type": "quantitative", "scale": {"domain": [70.7, 210.3]}}, "y": {"field": "f", "type": "quantitative", "scale": {"domain": [0.092, 1.761]}}}},
      {"data": {"values": [{"t": "HD L3-0R0"}]}, "mark": {"type": "text", "align": "left", "baseline": "alphabetic", "fontSize": 22, "color": "black"},
       "encoding": {"x": {"datum": 75, "type": "quantitative", "scale": {"domain": [70.7, 210.3]}}, "y": {"datum": 0.146, "type": "quantitative", "scale": {"domain": [0.092, 1.761]}}, "text": {"field": "t"}}}
      ]},
      {"data": {"name": "vl"}, "mark": {"type": "point", "opacity": 0},
       "encoding": {
         "x": {"field": "v", "type": "quantitative", "scale": {"domain": [70.7, 210.3]}, "axis": {"orient": "bottom", "values": [72, 88, 96, 104, 112, 128, 136, 144, 152, 168, 176, 184, 192, 208], "labels": false, "tickSize": 3, "title": null}},
         "y": {"datum": 1, "type": "quantitative", "scale": {"domain": [0.092, 1.761]}, "axis": {"orient": "left", "values": [0.1, 0.2, 0.3, 0.4, 0.6, 0.7, 0.8, 0.9, 1.1, 1.2, 1.3, 1.4, 1.6, 1.7], "labels": false, "tickSize": 3, "title": null}}
       }}
    ]
  }
]
}
